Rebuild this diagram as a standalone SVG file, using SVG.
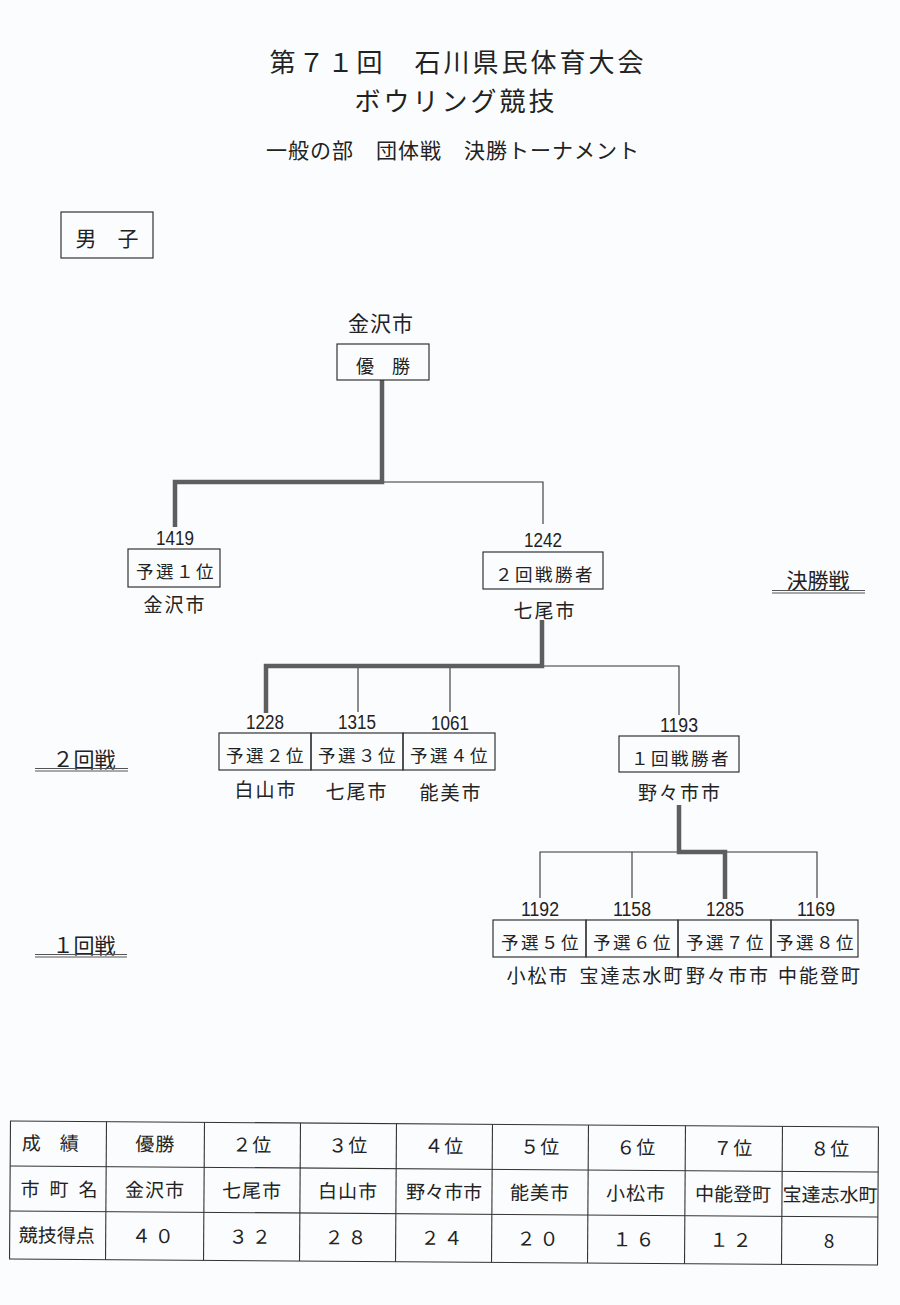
<svg xmlns="http://www.w3.org/2000/svg" width="900" height="1305" viewBox="0 0 900 1305">
<style>
text{font-family:"Noto Sans CJK JP","Noto Sans CJK SC",sans-serif;fill:#222}
.title{font-size:26px;text-anchor:middle;letter-spacing:3px}
.sub{font-size:21px;text-anchor:middle;letter-spacing:1px}
.lbl{font-size:19px;text-anchor:middle;letter-spacing:2px}
.box{fill:none;stroke:#333;stroke-width:1.2}
.bt{font-size:17.5px;text-anchor:middle;letter-spacing:2.5px}
.num{font-family:"Liberation Sans",sans-serif;font-size:20px;text-anchor:middle}
.thin{fill:none;stroke:#333;stroke-width:1.1}
.thick{fill:none;stroke:#5e5e5e;stroke-width:4.5;stroke-linejoin:miter}
.rnd{font-size:21px;text-anchor:middle}
.ul{stroke:#555;stroke-width:1}
.tc{font-size:19px;text-anchor:middle;letter-spacing:1px}
.tl{stroke:#333;stroke-width:1.1;fill:none}
</style>
<rect width="900" height="1305" fill="#fbfcfe"/>

<g id="title">
<text class="title" x="458" y="72">第７１回　石川県民体育大会</text>
<text class="title" x="456" y="111">ボウリング競技</text>
<text class="sub" x="453" y="158">一般の部　団体戦　決勝トーナメント</text>
</g>

<g id="danshi">
<rect class="box" x="61" y="212" width="92" height="46"/>
<text x="107" y="246" style="font-size:21px;text-anchor:middle">男　子</text>
</g>

<g id="round-labels">
<text class="rnd" x="818" y="588">決勝戦</text>
<line class="ul" x1="772" y1="590.5" x2="865" y2="590.5"/>
<line class="ul" x1="772" y1="593" x2="865" y2="593"/>
<text class="rnd" x="84" y="767">２回戦</text>
<line class="ul" x1="35" y1="768.5" x2="128" y2="768.5"/>
<line class="ul" x1="35" y1="771" x2="128" y2="771"/>
<text class="rnd" x="84" y="953">１回戦</text>
<line class="ul" x1="35" y1="954.5" x2="127" y2="954.5"/>
<line class="ul" x1="35" y1="957" x2="127" y2="957"/>
</g>

<g id="connectors">
<polyline class="thin" points="382,482 543,482 543,524"/>
<polyline class="thick" points="382,380 382,482 175,482 175,527"/>
<polyline class="thin" points="542,666 679,666 679,715"/>
<line class="thin" x1="358" y1="666" x2="358" y2="712"/>
<line class="thin" x1="450" y1="666" x2="450" y2="712"/>
<polyline class="thick" points="542,620 542,666 266,666 266,713"/>
<polyline class="thin" points="540,898 540,852 817,852 817,898"/>
<line class="thin" x1="632" y1="852" x2="632" y2="898"/>
<polyline class="thick" points="679,805 679,852 725,852 725,899"/>
</g>

<g id="champion">
<text x="381" y="331" style="font-size:21px;text-anchor:middle;letter-spacing:1px">金沢市</text>
<rect class="box" x="337" y="344" width="92" height="36"/>
<text x="383" y="373" style="font-size:18px;text-anchor:middle">優　勝</text>
</g>

<g id="seed1">
<text class="num" x="175" y="545" textLength="38" lengthAdjust="spacingAndGlyphs">1419</text>
<rect class="box" x="128" y="549" width="92" height="38"/>
<text class="bt" x="176" y="578">予選１位</text>
<text class="lbl" x="175" y="612">金沢市</text>
</g>

<g id="r2-winner">
<text class="num" x="543" y="547" textLength="38" lengthAdjust="spacingAndGlyphs">1242</text>
<rect class="box" x="483" y="552" width="120" height="37"/>
<text class="bt" x="545" y="581">２回戦勝者</text>
<text class="lbl" x="545" y="618">七尾市</text>
</g>

<g id="seed2">
<text class="num" x="265" y="729" textLength="38" lengthAdjust="spacingAndGlyphs">1228</text>
<rect class="box" x="219" y="733" width="92" height="37"/>
<text class="bt" x="266" y="762">予選２位</text>
<text class="lbl" x="266" y="797">白山市</text>
</g>

<g id="seed3">
<text class="num" x="357" y="729" textLength="38" lengthAdjust="spacingAndGlyphs">1315</text>
<rect class="box" x="311" y="733" width="92" height="37"/>
<text class="bt" x="358" y="762">予選３位</text>
<text class="lbl" x="357" y="799">七尾市</text>
</g>

<g id="seed4">
<text class="num" x="450" y="730" textLength="38" lengthAdjust="spacingAndGlyphs">1061</text>
<rect class="box" x="403" y="733" width="92" height="37"/>
<text class="bt" x="450" y="762">予選４位</text>
<text class="lbl" x="451" y="800">能美市</text>
</g>

<g id="r1-winner">
<text class="num" x="679" y="732" textLength="38" lengthAdjust="spacingAndGlyphs">1193</text>
<rect class="box" x="619" y="736" width="120" height="36"/>
<text class="bt" x="681" y="765">１回戦勝者</text>
<text class="lbl" x="680" y="800">野々市市</text>
</g>

<g id="seed5">
<text class="num" x="540" y="916" textLength="38" lengthAdjust="spacingAndGlyphs">1192</text>
<rect class="box" x="493" y="920" width="93" height="37"/>
<text class="bt" x="541" y="949">予選５位</text>
<text class="lbl" x="538" y="983">小松市</text>
</g>

<g id="seed6">
<text class="num" x="632" y="916" textLength="38" lengthAdjust="spacingAndGlyphs">1158</text>
<rect class="box" x="586" y="920" width="92" height="37"/>
<text class="bt" x="633" y="949">予選６位</text>
<text class="lbl" x="632" y="983">宝達志水町</text>
</g>

<g id="seed7">
<text class="num" x="725" y="916" textLength="38" lengthAdjust="spacingAndGlyphs">1285</text>
<rect class="box" x="678" y="920" width="93" height="37"/>
<text class="bt" x="726" y="949">予選７位</text>
<text class="lbl" x="728" y="983">野々市市</text>
</g>

<g id="seed8">
<text class="num" x="816" y="916" textLength="38" lengthAdjust="spacingAndGlyphs">1169</text>
<rect class="box" x="771" y="920" width="87" height="37"/>
<text class="bt" x="816" y="949">予選８位</text>
<text class="lbl" x="820" y="983">中能登町</text>
</g>

<g id="results-table" transform="rotate(0.4 444 1193)">
<rect class="tl" x="10" y="1124" width="868" height="138"/>
<line class="tl" x1="10" y1="1169" x2="878" y2="1169"/>
<line class="tl" x1="10" y1="1214" x2="878" y2="1214"/>
<g class="tl">
<line x1="106" y1="1124" x2="106" y2="1262"/>
<line x1="204" y1="1124" x2="204" y2="1262"/>
<line x1="300" y1="1124" x2="300" y2="1262"/>
<line x1="396" y1="1124" x2="396" y2="1262"/>
<line x1="492" y1="1124" x2="492" y2="1262"/>
<line x1="588" y1="1124" x2="588" y2="1262"/>
<line x1="685" y1="1124" x2="685" y2="1262"/>
<line x1="782" y1="1124" x2="782" y2="1262"/>
</g>
<text class="tc" x="50" y="1153" style="letter-spacing:0">成　績</text>
<text class="tc" x="155" y="1153">優勝</text>
<text class="tc" x="252" y="1153">２位</text>
<text class="tc" x="348" y="1153">３位</text>
<text class="tc" x="444" y="1153">４位</text>
<text class="tc" x="540" y="1153">５位</text>
<text class="tc" x="636" y="1153">６位</text>
<text class="tc" x="733" y="1153">７位</text>
<text class="tc" x="830" y="1153">８位</text>

<text class="tc" x="64" y="1199" style="letter-spacing:10px">市町名</text>
<text class="tc" x="155" y="1199">金沢市</text>
<text class="tc" x="252" y="1199">七尾市</text>
<text class="tc" x="348" y="1199">白山市</text>
<text class="tc" x="444" y="1199" style="letter-spacing:0">野々市市</text>
<text class="tc" x="540" y="1199">能美市</text>
<text class="tc" x="636" y="1199">小松市</text>
<text class="tc" x="733" y="1199" style="letter-spacing:0">中能登町</text>
<text class="tc" x="830" y="1199" style="letter-spacing:0">宝達志水町</text>

<text class="tc" x="57" y="1245" style="letter-spacing:0">競技得点</text>
<text class="tc" x="155" y="1245" style="letter-spacing:4px">４０</text>
<text class="tc" x="252" y="1245" style="letter-spacing:4px">３２</text>
<text class="tc" x="348" y="1245" style="letter-spacing:4px">２８</text>
<text class="tc" x="444" y="1245" style="letter-spacing:4px">２４</text>
<text class="tc" x="540" y="1245" style="letter-spacing:4px">２０</text>
<text class="tc" x="636" y="1245" style="letter-spacing:4px">１６</text>
<text class="tc" x="733" y="1245" style="letter-spacing:4px">１２</text>
<text class="tc" x="830" y="1245">8</text>
</g>
</svg>
